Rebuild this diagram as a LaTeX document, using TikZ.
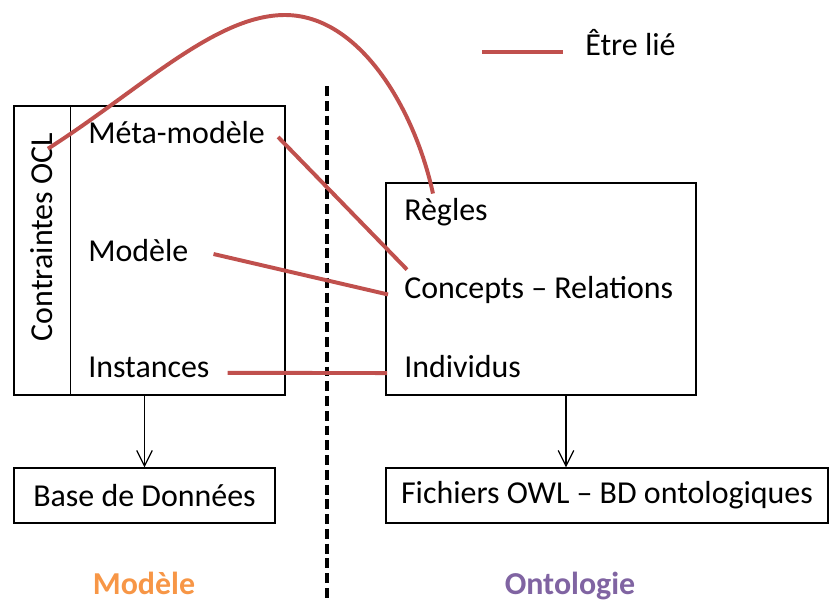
\documentclass[tikz,border=0pt]{standalone}
\usepackage{fontspec}
\setmainfont{Carlito}
\usetikzlibrary{arrows.meta}
\definecolor{rougelien}{HTML}{C0504D}
\definecolor{orangemodele}{HTML}{F79646}
\definecolor{violetonto}{HTML}{8064A2}
\begin{document}
\begin{tikzpicture}[x=0.025cm, y=-0.025cm,
        every node/.style={font=\fontsize{22.7}{27}\selectfont, inner sep=0pt},
        boite/.style={draw, line width=0.9pt},
        txt/.style={anchor=base west},
        lien/.style={draw=rougelien, line width=2.8pt},
        fleche/.style={-{Straight Barb[length=11pt, width=11pt]}, line width=0.9pt},
        titre/.style={anchor=base, font=\fontsize{22.7}{27}\selectfont\bfseries}]
            \useasboundingbox (0,0) rectangle (831,601);

            \node[boite, minimum width=6.775cm, minimum height=7.225cm] (modelbox) at (149.5,250.5) {};
            \node[boite, minimum width=7.75cm, minimum height=5.3cm] (ontobox) at (541,289) {};
            \node[boite, minimum width=6.525cm, minimum height=1.375cm] (bdd) at (144.5,495.5) {Base de Données};
            \node[boite, minimum width=11.05cm, minimum height=1.375cm] (owl) at (607,495.5) {Fichiers OWL -- BD ontologiques};
            \draw[line width=0.9pt] (modelbox.north west) ++(57,0) -- ++(0,289);

            \node[rotate=90] (ocl) at (42,237) {Contraintes OCL};
            \node[txt] (meta) at (88,143) {Méta-modèle};
            \node[txt] (modele) at (88,261) {Modèle};
            \node[txt] (instances) at (88,377) {Instances};
            \node[txt] (regles) at (404,220) {Règles};
            \node[txt] (concepts) at (404,298) {Concepts -- Relations};
            \node[txt] (individus) at (404,377) {Individus};

            \node[txt] (lie) at (585,55) {Être lié};
            \coordinate (leg1) at (482,52);
            \coordinate (leg2) at (563,52);

            \node[titre, text=orangemodele] (tmodele) at (144,594) {Modèle};
            \node[titre, text=violetonto] (tonto) at (570,594) {Ontologie};

            \coordinate (sep1) at (327,86);
            \coordinate (sep2) at (327,598);
            \draw[line width=3.2pt, dash pattern=on 7pt off 3.5pt] (sep1) -- (sep2);

            \draw[fleche] (bdd.north |- modelbox.south) -- (bdd.north);
            \draw[fleche] ([xshift=0.625cm]ontobox.south) -- ([xshift=0.625cm]ontobox.south |- owl.north);

            \draw[lien] (leg1) -- (leg2);
            \draw[lien] ([shift={(6,16)}]ocl.east) .. controls (140,90) and (215,15) .. (285,15)
                .. controls (360,15) and (415,110) .. ([shift={(-13,-4)}]regles.north);
            \draw[lien] ([shift={(13,5)}]meta.east) -- ([shift={(3,-6)}]concepts.north west);
            \draw[lien] ([shift={(25,4)}]modele.east) -- ([shift={(-16,5)}]concepts.west);
            \draw[lien] ([shift={(18,6)}]instances.east) -- ([shift={(-17,7)}]individus.west);
        \end{tikzpicture}
\end{document}
